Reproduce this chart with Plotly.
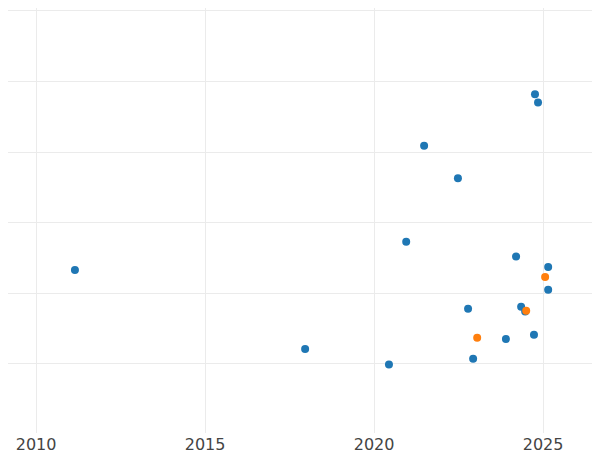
import plotly.graph_objects as go

blue_x = [2011.15, 2017.96, 2020.44, 2020.95, 2021.48, 2022.48, 2022.78, 2022.93, 2023.90,
          2024.20, 2024.35, 2024.47, 2024.73, 2024.76, 2024.85, 2025.15, 2025.15]
blue_y = [1.33, 0.21, -0.01, 1.73, 3.09, 2.63, 0.78, 0.07, 0.35,
          1.52, 0.81, 0.74, 0.41, 3.82, 3.70, 1.37, 1.05]
orange_x = [2023.05, 2024.50, 2025.06]
orange_y = [0.37, 0.75, 1.23]

fig = go.Figure()
fig.add_trace(go.Scatter(x=blue_x, y=blue_y, mode="markers",
                         marker=dict(color="#1f77b4", size=8), showlegend=False))
fig.add_trace(go.Scatter(x=orange_x, y=orange_y, mode="markers",
                         marker=dict(color="#ff7f0e", size=8), showlegend=False))
fig.update_layout(
    width=600, height=450, margin=dict(l=0, r=0, t=0, b=25, autoexpand=False),
    plot_bgcolor="white", paper_bgcolor="white",
    font=dict(family="DejaVu Sans", size=16, color="#444"),
    xaxis=dict(range=[2009.17, 2026.92], tickvals=[2010, 2015, 2020, 2025],
               showgrid=True, gridcolor="#ebebeb", zeroline=False, showline=False,
               automargin=False, ticklen=0),
    yaxis=dict(range=[-0.98, 5.04], dtick=1, showticklabels=False, automargin=False,
               showgrid=True, gridcolor="#ebebeb", zeroline=False, showline=False),
)
fig.write_html("out.html")
